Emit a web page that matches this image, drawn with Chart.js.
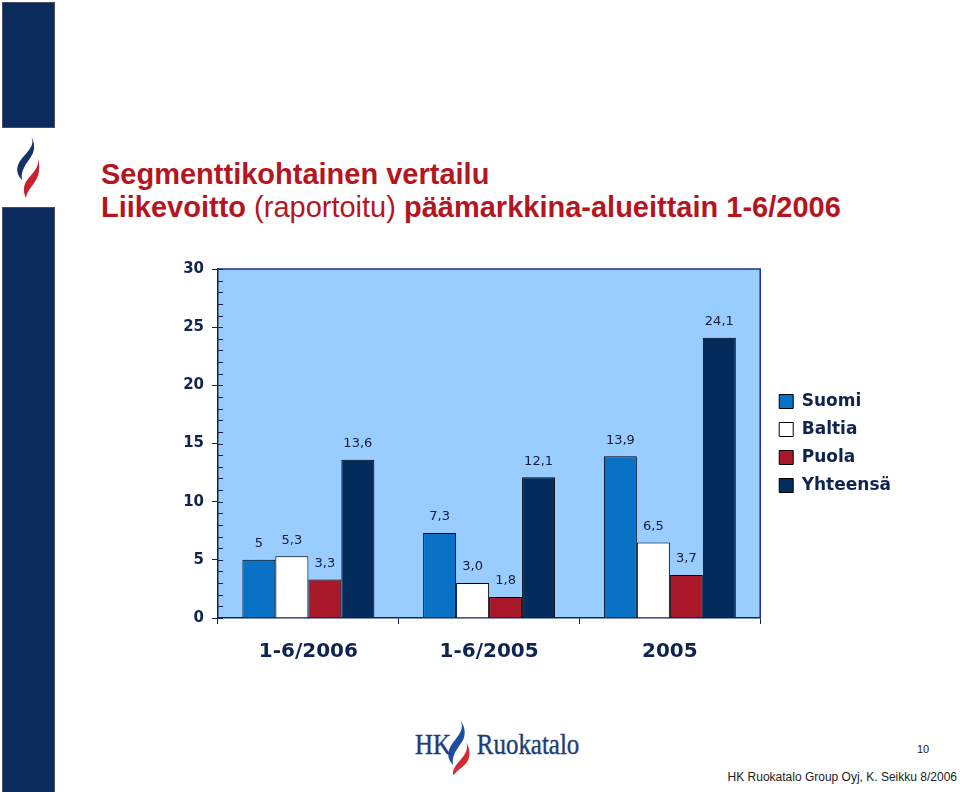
<!DOCTYPE html>
<html>
<head>
<meta charset="utf-8">
<script src="https://cdn.jsdelivr.net/npm/chart.js@4/dist/chart.umd.min.js"></script>
<style>
  html, body { margin: 0; padding: 0; background: #fff; }
  #slide { position: relative; width: 960px; height: 792px; overflow: hidden; background: #fff; font-family: "Liberation Sans", Arial, sans-serif; }
  .bar { position: absolute; left: 2px; width: 51px; background: #0b2b5c; border: 1px solid #4a4f5c; }
  #title { position: absolute; left: 101px; top: 158px; color: #b5151f; font-size: 29px; line-height: 33px; font-weight: bold; white-space: nowrap; }
  #title .thin { font-weight: normal; }
  #chartBox { position: absolute; left: 160px; top: 250px; }
  #logoTxt { position: absolute; top: 728px; left: 415px; color: #1d3d78; font-family: "Liberation Serif", "Times New Roman", serif; font-size: 29px; white-space: nowrap; transform: scaleX(0.86); transform-origin: 0 0; -webkit-text-stroke: 0.4px #1d3d78; }
  #pageNo { position: absolute; left: 917px; top: 743px; font-size: 11px; color: #222; }
  #footer { position: absolute; right: 3px; top: 770px; font-size: 12px; color: #222; white-space: nowrap; }
</style>
</head>
<body>
<div id="slide">
  <div class="bar" style="top:2px;height:124px"></div>
  <div class="bar" style="top:207px;height:590px"></div>
  <svg style="position:absolute;left:0;top:0" width="60" height="210">
    <path d="M31,137 C37,147 22,155 18,165 C16,171 18,176 22,180 C20,170 28,162 32,155 C35,150 35,142 31,137 Z" fill="#14336b"/>
    <path d="M37,157 C42,168 28,176 25,184 C23,189 24,194 26,198 C27,190 34,185 37,178 C40,172 40,163 37,157 Z" fill="#c8202d"/>
  </svg>
  <div id="title">Segmenttikohtainen vertailu<br>Liikevoitto <span class="thin">(raportoitu)</span> päämarkkina-alueittain 1-6/2006</div>

  <div id="chartBox"><canvas id="chart" width="733" height="430"></canvas></div>

  <svg style="position:absolute;left:440px;top:715px" width="40" height="62">
    <path d="M20,5 C27,17 12,25 9,35 C7,41 9,46 13,50 C11,40 19,32 23,25 C26,19 25,11 20,5 Z" fill="#1d4fa0"/>
    <path d="M26,27 C31,38 17,46 14,54 C12,58 13,61 15,59 C16,56 24,52 27,47 C31,41 30,33 26,27 Z" fill="#d42c35"/>
  </svg>
  <div id="logoTxt"><span>HK</span><span style="margin-left:30px">Ruokatalo</span></div>
  <div id="pageNo">10</div>
  <div id="footer">HK Ruokatalo Group Oyj, K. Seikku 8/2006</div>
</div>

<script>
// data
const categories = ['1-6/2006', '1-6/2005', '2005'];
const seriesNames = ['Suomi', 'Baltia', 'Puola', 'Yhteensä'];
const suomi    = [5, 7.3, 13.9];
const baltia   = [5.3, 3.0, 6.5];
const puola    = [3.3, 1.8, 3.7];
const yhteensa = [13.6, 12.1, 24.1];
// value labels as printed on the slide
const suomiLabels    = ['5', '7,3', '13,9'];
const baltiaLabels   = ['5,3', '3,0', '6,5'];
const puolaLabels    = ['3,3', '1,8', '3,7'];
const yhteensaLabels = ['13,6', '12,1', '24,1'];
const yMin = 0, yMax = 30, yStep = 5;

const NAVY = '#0f2550';
const seriesColors = ['#0a72c6', '#ffffff', '#a8182a', '#032c5c'];
const seriesValues = [suomi, baltia, puola, yhteensa];
const seriesLabels = [suomiLabels, baltiaLabels, puolaLabels, yhteensaLabels];

/* plot background + top/right frame + inner value-axis ticks */
const plotFrame = {
  id: 'plotFrame',
  afterLayout(chart) {
    // legend sits a bit further from the plot than Chart.js puts it
    if (chart.legend) { chart.legend.left += 8; chart.legend.right += 8; }
  },
  beforeDraw(chart) {
    const { ctx, chartArea: a } = chart;
    ctx.save();
    ctx.fillStyle = '#99ccff';
    ctx.fillRect(a.left, a.top, a.right - a.left, a.bottom - a.top);
    ctx.restore();
  },
  afterDraw(chart) {
    const { ctx, chartArea: a } = chart;
    ctx.save();
    ctx.strokeStyle = '#1a2f8a';
    ctx.lineWidth = 1.5;
    ctx.beginPath();
    ctx.moveTo(a.left, a.top);
    ctx.lineTo(a.right, a.top);
    ctx.lineTo(a.right, a.bottom);
    ctx.stroke();
    const y = chart.scales.y;
    ctx.strokeStyle = NAVY;
    ctx.lineWidth = 1;
    for (let v = yMin; v <= yMax; v++) {
      const py = Math.round(y.getPixelForValue(v)) + 0.5;
      ctx.beginPath();
      ctx.moveTo(a.left, py);
      ctx.lineTo(a.left + 5, py);
      ctx.stroke();
    }
    ctx.restore();
  }
};

/* value labels above bars */
const barValues = {
  id: 'barValues',
  afterDatasetsDraw(chart) {
    const { ctx } = chart;
    ctx.save();
    ctx.font = '13px "DejaVu Sans"';
    ctx.fillStyle = '#141c36';
    ctx.textAlign = 'center';
    ctx.textBaseline = 'middle';
    chart.data.datasets.forEach((ds, di) => {
      chart.getDatasetMeta(di).data.forEach((bar, i) => {
        ctx.fillText(seriesLabels[di][i], bar.x, bar.y - 16);
      });
    });
    ctx.restore();
  }
};

new Chart(document.getElementById('chart'), {
  type: 'bar',
  data: {
    labels: categories,
    datasets: seriesNames.map((name, i) => ({
      label: name,
      data: seriesValues[i],
      backgroundColor: seriesColors[i],
      borderColor: '#000',
      borderWidth: 1,
      categoryPercentage: 0.73,
      barPercentage: 1.0
    }))
  },
  options: {
    responsive: false,
    animation: false,
    devicePixelRatio: 1,
    layout: { padding: { top: 19, right: 0 } },
    plugins: {
      tooltip: { enabled: false },
      legend: {
        position: 'right',
        fullSize: false,
        labels: {
          boxWidth: 14,
          boxHeight: 14,
          padding: 11,
          color: NAVY,
          font: { family: 'DejaVu Sans', size: 17, weight: 'bold' }
        }
      }
    },
    scales: {
      x: {
        grid: { offset: true, drawOnChartArea: false, drawTicks: true, tickLength: 6, color: NAVY },
        border: { display: true, color: NAVY, width: 1.5 },
        ticks: { color: NAVY, padding: 16, font: { family: 'DejaVu Sans', size: 20, weight: 'bold' } },
        afterFit: s => { s.height = 62; }
      },
      y: {
        min: yMin, max: yMax,
        grid: { drawOnChartArea: false, drawTicks: true, tickLength: 6, color: NAVY },
        border: { display: true, color: NAVY, width: 1.5 },
        ticks: { stepSize: yStep, color: NAVY, padding: 8, font: { family: 'DejaVu Sans', size: 15, weight: 'bold' } },
        afterFit: s => { s.width = 58; }
      }
    }
  },
  plugins: [plotFrame, barValues]
});
</script>
</body>
</html>
